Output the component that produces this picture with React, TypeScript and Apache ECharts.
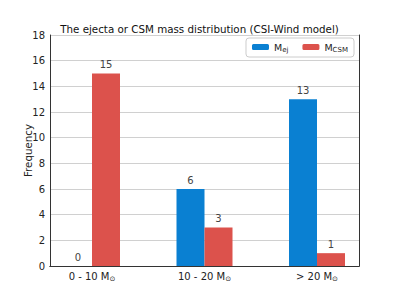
import React, { useEffect, useRef } from "react";
import * as echarts from "echarts";

const categories = ["0 - 10", "10 - 20", "> 20"];
const mejValues = [0, 6, 13];
const mcsmValues = [15, 3, 1];
const yTicks = { min: 0, max: 18, interval: 2 };
const titleText = "The ejecta or CSM mass distribution (CSI-Wind model)";

const FONT = "DejaVu Sans";

export default function App() {
  const ref = useRef<HTMLDivElement>(null);
  useEffect(() => {
    if (!ref.current) return;
    document.body.style.margin = "0";
    const chart = echarts.init(ref.current, undefined, { renderer: "svg" });
    const frameAxis = {
      axisLine: { show: true, lineStyle: { color: "#333", width: 1 } },
      axisTick: { show: false },
      axisLabel: { show: false },
      splitLine: { show: false },
      z: 5,
    };
    const barLabel = {
      show: true,
      position: "top",
      distance: 4,
      color: "#444",
      fontFamily: FONT,
      fontSize: 10,
    };
    chart.setOption({
      animation: false,
      backgroundColor: "#fff",
      title: {
        text: titleText,
        left: "center",
        top: 18.5,
        textStyle: { fontFamily: FONT, fontSize: 10.3, fontWeight: "normal", color: "#111" },
      },
      legend: {
        right: 45,
        top: 38,
        orient: "horizontal",
        itemWidth: 17,
        itemHeight: 6,
        itemGap: 14,
        padding: [4, 6, 4, 6],
        borderColor: "#ccc",
        borderWidth: 1,
        borderRadius: 3,
        data: ["Mej", "MCSM"],
        formatter: (name: string) =>
          name === "Mej" ? "{m|M}{s|ej}" : "{m|M}{s|CSM}",
        textStyle: {
          fontFamily: FONT,
          color: "#222",
          rich: {
            m: { fontFamily: FONT, fontSize: 9.5, color: "#222" },
            s: { fontFamily: FONT, fontSize: 7, color: "#222", padding: [5, 0, 0, 0] },
          },
        },
      },
      grid: [
        { left: 50, right: 40, top: 35, bottom: 33 },
        { left: 35.75, right: 25.75, top: 35, bottom: 33 },
      ],
      xAxis: [
        { gridIndex: 0, type: "value", min: 0, max: 1, position: "bottom", ...frameAxis },
        { gridIndex: 0, type: "value", min: 0, max: 1, position: "top", ...frameAxis },
        {
          gridIndex: 1,
          type: "category",
          data: categories,
          axisLine: { show: false },
          axisTick: { show: false },
          axisLabel: {
            interval: 0,
            margin: 4,
            formatter: (v: string) => `{t|${v} M}{s|⊙}`,
            rich: {
              t: { fontFamily: FONT, fontSize: 10, color: "#222" },
              s: { fontFamily: FONT, fontSize: 7, color: "#222", padding: [5, 0, 0, 0] },
            },
          },
        },
      ],
      yAxis: [
        {
          gridIndex: 0,
          type: "value",
          ...yTicks,
          position: "left",
          axisLine: { show: false },
          axisTick: { show: false },
          axisLabel: { fontFamily: FONT, fontSize: 10, color: "#222", margin: 5 },
          splitLine: { show: true, lineStyle: { color: "#d0d0d0", width: 1 } },
          name: "Frequency",
          nameLocation: "middle",
          nameGap: 17,
          nameMoveOverlap: false,
          nameTextStyle: { fontFamily: FONT, fontSize: 10.3, color: "#222" },
        },
        { gridIndex: 0, type: "value", ...yTicks, position: "left", ...frameAxis },
        { gridIndex: 0, type: "value", ...yTicks, position: "right", ...frameAxis },
        { gridIndex: 1, type: "value", ...yTicks, show: false },
      ],
      series: [
        {
          name: "Mej",
          type: "bar",
          xAxisIndex: 2,
          yAxisIndex: 3,
          data: mejValues,
          barWidth: 28,
          barGap: "0%",
          itemStyle: { color: "#0a80d2" },
          label: barLabel,
        },
        {
          name: "MCSM",
          type: "bar",
          xAxisIndex: 2,
          yAxisIndex: 3,
          data: mcsmValues,
          barWidth: 28,
          barGap: "0%",
          itemStyle: { color: "#dc524c" },
          label: barLabel,
        },
      ],
    });
    return () => chart.dispose();
  }, []);
  return <div ref={ref} style={{ width: 399, height: 299 }} />;
}
